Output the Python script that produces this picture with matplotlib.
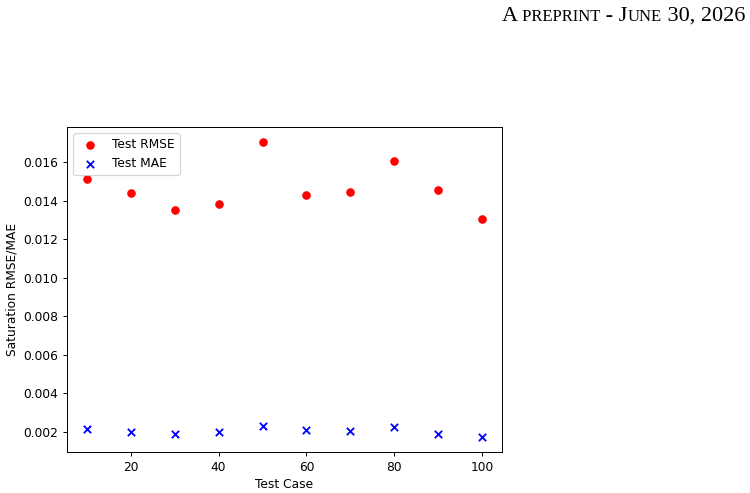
import matplotlib
matplotlib.use("Agg")
import matplotlib.pyplot as plt

# data
test_case = [10, 20, 30, 40, 50, 60, 70, 80, 90, 100]
test_rmse = [0.01511, 0.01439, 0.01350, 0.01384, 0.01707, 0.01433, 0.01446, 0.01605, 0.01459, 0.01308]
test_mae = [0.00214, 0.00200, 0.00191, 0.00197, 0.00229, 0.00207, 0.00203, 0.00224, 0.00190, 0.00172]

# header pieces: (text, is_small_cap)
header_parts = [("A", False), (" PREPRINT", True), (" - J", False), ("UNE", True), (" 30, 2026", False)]

DPI = 88  # figure appears scaled down from a larger original
fig = plt.figure(figsize=(751 / DPI, 493 / DPI), dpi=DPI)
ax = fig.add_axes([67 / 751, 1 - 452 / 493, 435 / 751, 325 / 493])

ax.scatter(test_case, test_rmse, color="red", marker="o", label="Test RMSE")
ax.scatter(test_case, test_mae, color="blue", marker="x", label="Test MAE")
ax.set_xlabel("Test Case")
ax.set_ylabel("Saturation RMSE/MAE")
ax.set_xticks([20, 40, 60, 80, 100])
ax.legend(loc="upper left")

# small-caps running header, drawn piece by piece, right edge near x=745
renderer = fig.canvas.get_renderer()
texts = []
for txt, small in header_parts:
    size = (12.0 if small else 16.0) * 100 / DPI
    texts.append(fig.text(0, 1 - 21 / 493, txt, fontsize=size,
                          family="Liberation Serif", va="baseline", ha="left"))
widths = [t.get_window_extent(renderer=renderer).width for t in texts]
x = 745 - sum(widths)
for t, w in zip(texts, widths):
    t.set_x(x / 751)
    x += w

fig.savefig("out.png", dpi=DPI)
